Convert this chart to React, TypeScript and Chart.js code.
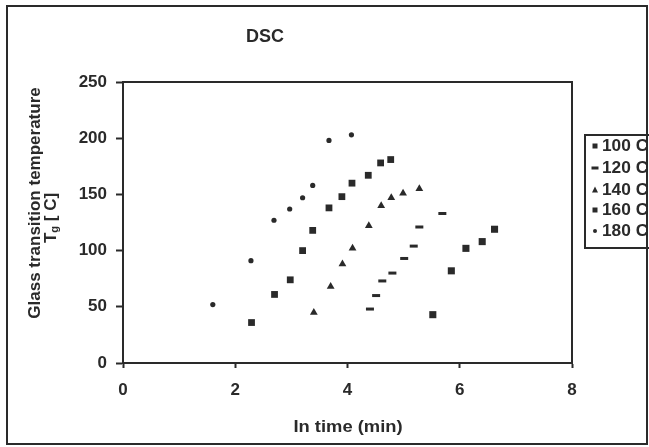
import { useEffect, useRef } from "react";
import { Chart, registerables } from "chart.js";

Chart.register(...registerables);

// ---- data ----
const seriesNames = ["100 C", "120 C", "140 C", "160 C", "180 C"];

const time100 = [5.52, 5.85, 6.11, 6.4, 6.62];
const tg100 = [43, 82, 102, 108, 119];

const time120 = [4.4, 4.51, 4.62, 4.8, 5.01, 5.18, 5.28, 5.69];
const tg120 = [48, 60, 73, 80, 93, 104, 121, 133];

const time140 = [3.4, 3.7, 3.91, 4.09, 4.38, 4.6, 4.78, 4.99, 5.28];
const tg140 = [45, 68, 88, 102, 122, 140, 147, 151, 155];

const time160 = [2.29, 2.7, 2.98, 3.2, 3.38, 3.67, 3.9, 4.08, 4.37, 4.59, 4.77];
const tg160 = [36, 61, 74, 100, 118, 138, 148, 160, 167, 178, 181];

const time180 = [1.6, 2.28, 2.69, 2.97, 3.2, 3.38, 3.67, 4.07];
const tg180 = [52, 91, 127, 137, 147, 158, 198, 203];

const xTickValues = [0, 2, 4, 6, 8];
const yTickValues = [0, 50, 100, 150, 200, 250];

const titleText = "DSC";
const xTitle = "In time (min)";
const yTitleLine1 = "Glass transition temperature";

const INK = "#2a2a2a";
const FONT = "'Liberation Sans', Arial, sans-serif";

function drawMarker(ctx: CanvasRenderingContext2D, kind: number, x: number, y: number, s: number) {
  ctx.save();
  ctx.fillStyle = INK;
  ctx.strokeStyle = INK;
  if (kind === 0 || kind === 3) {
    ctx.fillRect(x - s, y - s, 2 * s, 2 * s);
  } else if (kind === 1) {
    ctx.fillRect(x - s - 1, y - 1.5, 2 * s + 2, 3);
  } else if (kind === 2) {
    ctx.beginPath();
    ctx.moveTo(x, y - s - 1);
    ctx.lineTo(x + s + 0.5, y + s);
    ctx.lineTo(x - s - 0.5, y + s);
    ctx.closePath();
    ctx.fill();
  } else {
    ctx.beginPath();
    ctx.arc(x, y, s * 0.8, 0, Math.PI * 2);
    ctx.fill();
  }
  ctx.restore();
}

function stretchedText(ctx: CanvasRenderingContext2D, text: string, x: number, y: number, sx: number) {
  ctx.save();
  ctx.translate(x, y);
  ctx.scale(sx, 1);
  ctx.fillText(text, 0, 0);
  ctx.restore();
}

const decor = {
  id: "decor",
  afterDraw(chart: any) {
    const ctx: CanvasRenderingContext2D = chart.ctx;
    const { left, right, top, bottom } = chart.chartArea;
    ctx.save();
    ctx.strokeStyle = INK;
    ctx.lineWidth = 2;
    // plot border top/right
    ctx.beginPath();
    ctx.moveTo(left, top);
    ctx.lineTo(right, top);
    ctx.lineTo(right, bottom);
    ctx.stroke();
    // outer border
    ctx.strokeRect(7, 6, 640, 438);

    ctx.fillStyle = INK;
    ctx.textAlign = "center";
    ctx.textBaseline = "middle";
    // title
    ctx.font = `bold 18px ${FONT}`;
    ctx.fillText(titleText, 265, 37);
    // x title
    ctx.font = `bold 17px ${FONT}`;
    stretchedText(ctx, xTitle, 348, 427, 1.08);
    // y title
    ctx.save();
    ctx.translate(35, 203);
    ctx.rotate(-Math.PI / 2);
    ctx.font = `bold 17px ${FONT}`;
    ctx.fillText(yTitleLine1, 0, 0);
    ctx.restore();
    ctx.save();
    ctx.translate(51, 218);
    ctx.rotate(-Math.PI / 2);
    ctx.textAlign = "left";
    const partA = "T";
    const partB = "g";
    const partC = " [ C]";
    ctx.font = `bold 17px ${FONT}`;
    const wA = ctx.measureText(partA).width;
    const wC = ctx.measureText(partC).width;
    ctx.font = `bold 11px ${FONT}`;
    const wB = ctx.measureText(partB).width;
    const total = wA + wB + wC;
    let px = -total / 2;
    ctx.font = `bold 17px ${FONT}`;
    ctx.fillText(partA, px, 0);
    px += wA;
    ctx.font = `bold 11px ${FONT}`;
    ctx.fillText(partB, px, 4);
    px += wB;
    ctx.font = `bold 17px ${FONT}`;
    ctx.fillText(partC, px, 0);
    ctx.restore();

    // legend
    ctx.lineWidth = 2;
    ctx.strokeRect(585, 135, 70, 113);
    ctx.textAlign = "left";
    ctx.font = `bold 16px ${FONT}`;
    const rows = [146, 168, 190, 210, 231];
    seriesNames.forEach((name, i) => {
      drawMarker(ctx, i, 595, rows[i], 2.5);
      ctx.fillStyle = INK;
      stretchedText(ctx, name, 602, rows[i] + 1, 1.08);
    });
    ctx.restore();
  },
};

export default function App() {
  const ref = useRef<HTMLCanvasElement>(null);
  useEffect(() => {
    const pts = (xs: number[], ys: number[]) => xs.map((x, i) => ({ x, y: ys[i] }));
    const base = {
      backgroundColor: INK,
      borderColor: INK,
      showLine: false,
    };
    const tickFont = { family: FONT, size: 17, weight: "bold" as const };
    const chart = new Chart(ref.current!, {
      type: "scatter",
      data: {
        datasets: [
          { ...base, label: seriesNames[0], data: pts(time100, tg100), pointStyle: "rect", pointRadius: 5, borderWidth: 0 },
          { ...base, label: seriesNames[1], data: pts(time120, tg120), pointStyle: "line", pointRadius: 4, borderWidth: 3 },
          { ...base, label: seriesNames[2], data: pts(time140, tg140), pointStyle: "triangle", pointRadius: 4.5, borderWidth: 0 },
          { ...base, label: seriesNames[3], data: pts(time160, tg160), pointStyle: "rect", pointRadius: 4.8, borderWidth: 0 },
          { ...base, label: seriesNames[4], data: pts(time180, tg180), pointStyle: "circle", pointRadius: 2.6, borderWidth: 0 },
        ],
      },
      options: {
        responsive: false,
        animation: false,
        devicePixelRatio: 1,
        layout: { padding: { left: 0, top: 82, right: 77, bottom: 0 } },
        plugins: {
          legend: { display: false },
          title: { display: false },
          tooltip: { enabled: false },
        },
        scales: {
          x: {
            type: "linear",
            min: 0,
            max: 8,
            afterBuildTicks: (s: any) => {
              s.ticks = xTickValues.map((v) => ({ value: v }));
            },
            ticks: { font: tickFont, color: INK, padding: 12, maxRotation: 0 },
            grid: { drawOnChartArea: false, tickLength: 5, tickColor: INK, tickWidth: 2 },
            border: { color: INK, width: 2 },
            afterFit: (s: any) => {
              s.height = 84;
            },
          },
          y: {
            type: "linear",
            min: 0,
            max: 250,
            afterBuildTicks: (s: any) => {
              s.ticks = yTickValues.map((v) => ({ value: v }));
            },
            ticks: { font: tickFont, color: INK, padding: 9 },
            grid: { drawOnChartArea: false, tickLength: 7, tickColor: INK, tickWidth: 2 },
            border: { color: INK, width: 2 },
            afterFit: (s: any) => {
              s.width = 123;
            },
          },
        },
      },
      plugins: [decor],
    });
    return () => chart.destroy();
  }, []);
  return (
    <canvas
      ref={ref}
      width={649}
      height={447}
      style={{ position: "fixed", left: 0, top: 0, display: "block", background: "#fff" }}
    />
  );
}
